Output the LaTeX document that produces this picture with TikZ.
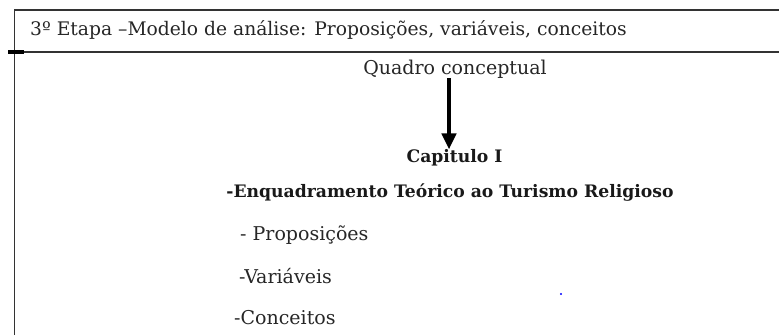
\documentclass[tikz,border=0pt]{standalone}
\usepackage{fontspec}
\setmainfont{DejaVu Serif}
\usetikzlibrary{positioning}
\usetikzlibrary{arrows.meta}

\begin{document}
\begin{tikzpicture}
           [x=1pt, y=-1pt,
            txt/.style = {inner sep=0pt, text=black!85, font=\fontsize{19}{22}\selectfont},
            ttl/.style = {inner sep=0pt, text=black!90, font=\bfseries\fontsize{17.2}{20}\selectfont},
            rule/.style = {line width=1.4pt, black!80}]
            \useasboundingbox (0,0) rectangle (779,335);

            % frame of the table
            \coordinate (tl) at (14.5,10);
            \coordinate (tr) at (779,10);
            \coordinate (bl) at (14.5,335);
            \coordinate (ml) at (8,52);
            \coordinate (mr) at (779,52);
            \draw[rule] (bl) -- (tl) -- (tr);
            \draw[rule] (ml) -- (mr);
            \draw[line width=3.5pt] (ml) -- ++(16,0);

            \node[txt, anchor=west, font=\fontsize{18.7}{22}\selectfont] (etapa) at (30,30) {3º Etapa –Modelo de análise: Proposições, variáveis, conceitos};
            \node[txt] (quadro) at (455,69) {Quadro conceptual};
            \node[ttl] (cap) at (454.5,158) {Capitulo I};
            \node[ttl] (enq) at (450,193) {-Enquadramento Teórico ao Turismo Religioso};
            \node[txt, anchor=west] (prop) at (240,235) {- Proposições};
            \node[txt, anchor=west] (var) at (239,276) {-Variáveis};
            \node[txt, anchor=west] (conc) at (234,318) {-Conceitos};
            \fill[blue] (561,294) circle (1.2);

            \path[-{Triangle[width=14pt,length=16pt]}, line width=4pt]
                ([xshift=-6pt]quadro.south) edge ([xshift=-5.5pt]cap.north);
        \end{tikzpicture}
\end{document}
